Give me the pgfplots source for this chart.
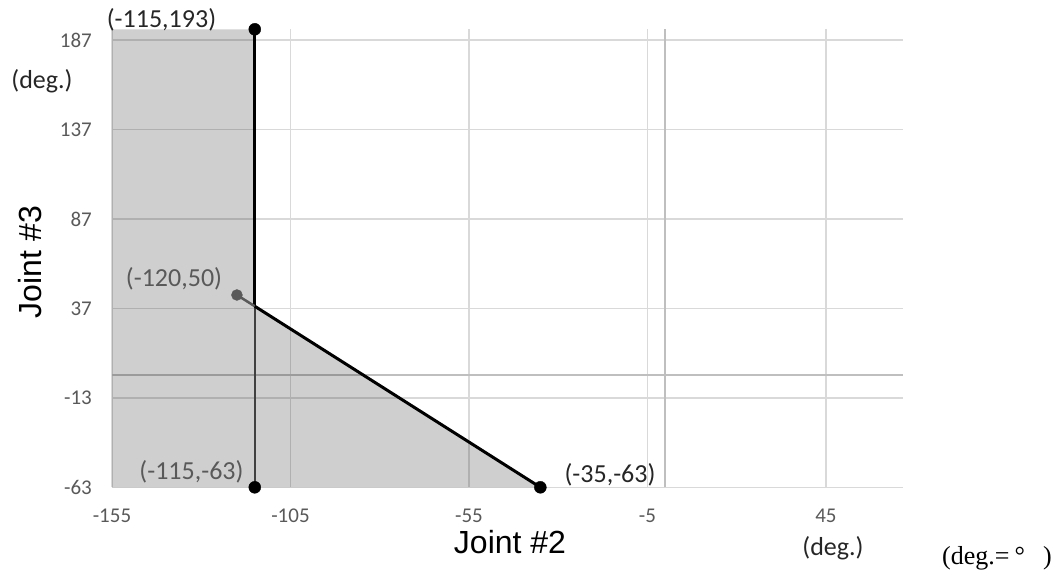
\documentclass[border=0pt]{standalone}
\usepackage{pgfplots}
\pgfplotsset{compat=1.18}
\usepackage{fontspec}
\setmainfont{Carlito}
\newfontfamily\arialf{Liberation Sans}
\newfontfamily\seriff{Liberation Serif}
\definecolor{gridc}{HTML}{D9D9D9}
\definecolor{axc}{HTML}{BFBFBF}
\definecolor{tickc}{HTML}{595959}
\definecolor{dk}{HTML}{262626}
\definecolor{lineg}{HTML}{404040}
\begin{document}
\begin{tikzpicture}
\useasboundingbox (0,0) rectangle (1058pt,-576pt);
\begin{axis}[
  at={(112pt,-487.3pt)}, anchor=south west,
  scale only axis, width=791pt, height=458pt,
  xmin=-155, xmax=66.6, ymin=-63, ymax=193,
  xtick={-155,-105,-55,-5,45}, ytick={-63,-13,37,87,137,187},
  grid=major, grid style={gridc, line width=1.5pt},
  axis line style={draw=none},
  major tick length=0pt,
  tick label style={font=\fontsize{21}{21}\selectfont, text=tickc},
  /pgf/number format/assume math mode=true,
  xticklabel style={anchor=base, yshift=-35pt, inner sep=0pt},
  yticklabel style={anchor=east, xshift=-20pt, inner sep=0pt},
  extra x ticks={0}, extra y ticks={0},
  extra x tick labels={}, extra y tick labels={},
  extra tick style={grid style={axc, line width=2pt}},
  clip=false,
]
\addplot[draw=none, fill=black, fill opacity=0.19] coordinates {(-155,-63) (-155,193) (-115,193) (-115,38.2) (-35,-63)} -- cycle;
\addplot[black, line width=3pt] coordinates {(-115,193) (-115,38.2)};
\addplot[lineg, line width=2.5pt] coordinates {(-115,38.2) (-115,-63)};
\addplot[tickc, line width=2.5pt] coordinates {(-120,44.5) (-115,38.2)};
\addplot[black, line width=3pt] coordinates {(-115,38.2) (-35,-63)};
\addplot[only marks, mark=*, mark size=6pt, black] coordinates {(-115,193) (-115,-63) (-35,-63)};
\addplot[only marks, mark=*, mark size=5.5pt, tickc] coordinates {(-120,44.5)};
\end{axis}
\begin{scope}[every node/.style={font=\fontsize{26}{26}\selectfont, inner sep=0pt}]
\node[text=dk] at (161.5pt,-20pt) {(-115,193)};
\node[text=tickc] at (174pt,-279pt) {(-120,50)};
\node[text=tickc] at (191.5pt,-472pt) {(-115,-63)};
\node[text=dk] at (610pt,-475pt) {(-35,-63)};
\node[text=dk] at (42pt,-81pt) {(deg.)};
\node[text=dk] at (833pt,-548pt) {(deg.)};
\node[font=\arialf\fontsize{32}{32}\selectfont] at (510pt,-542pt) {Joint \#2};
\node[font=\arialf\fontsize{32}{32}\selectfont, rotate=90] at (30pt,-262pt) {Joint \#3};
\node[font=\seriff\fontsize{26}{26}\selectfont] at (997pt,-558pt) {(deg.=\kern0.2em°\kern0.7em)};
\end{scope}
\end{tikzpicture}
\end{document}
